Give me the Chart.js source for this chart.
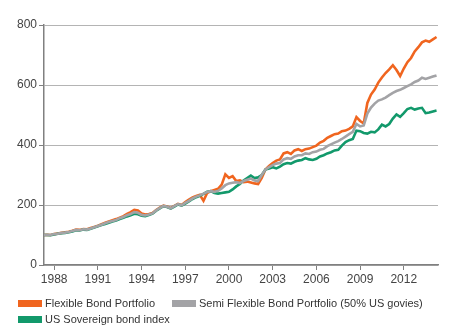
<!DOCTYPE html>
<html>
<head>
<meta charset="utf-8">
<script src="https://cdn.jsdelivr.net/npm/chart.js@4"></script>
<style>
  body { margin: 0; background: #fff; }
  #wrap { position: relative; width: 450px; height: 334px; }
  #legend { position: absolute; left: 0; top: 0; width: 450px; height: 334px; pointer-events: none;
            font-family: "Liberation Sans", Arial, sans-serif; font-size: 11px; color: #333; }
  .item { position: absolute; display: flex; align-items: center; white-space: nowrap; }
  .box { width: 24px; height: 7px; margin-right: 3px; }
</style>
</head>
<body>
<div id="wrap">
  <canvas id="chart" width="450" height="334"></canvas>
  <div id="legend"></div>
</div>
<script>
// quarterly points, 1987.25 .. 2014.25
const startYear = 1987.25;
const yearTicks = [1988, 1991, 1994, 1997, 2000, 2003, 2006, 2009, 2012];
const yTicks = [0, 200, 400, 600, 800];

const flexible = [
  100, 101, 100,
  103, 105, 107, 109,
  111, 114, 118, 117,
  120, 119, 123, 127,
  131, 136, 141, 145,
  149, 153, 158, 163,
  170, 176, 184, 182,
  172, 168, 170, 173,
  183, 191, 198, 195,
  190, 197, 204, 200,
  210, 218, 225, 230,
  234, 214, 240, 246,
  250, 254, 268, 302,
  290, 296, 280, 282,
  276, 278, 275, 272,
  270, 290, 318, 330,
  340, 348, 352, 372,
  376, 370, 382, 386,
  380, 386, 388, 393,
  398, 408, 414, 424,
  430, 436, 438, 446,
  448, 454, 462, 493,
  480, 472, 540, 568,
  585, 608, 625, 640,
  652, 666, 650, 630,
  655, 676, 690, 712,
  726, 742, 748, 744,
  752, 760
];

const semiFlexible = [
  100, 101, 100,
  103, 104, 107, 108,
  110, 113, 117, 116,
  119, 118, 122, 126,
  130, 134, 139, 143,
  147, 150, 156, 160,
  166, 170, 176, 174,
  167, 165, 168, 172,
  182, 190, 197, 194,
  189, 196, 203, 199,
  207, 214, 222, 228,
  232, 238, 243, 246,
  244, 247, 255, 266,
  272, 274, 276, 273,
  280, 284, 288, 282,
  280, 300, 318, 326,
  333, 338, 340, 352,
  356, 354, 362, 366,
  366, 372, 370, 376,
  378, 384, 387, 396,
  402, 408, 413, 420,
  428, 436, 444, 470,
  462, 465, 505, 525,
  538, 548, 552, 558,
  566, 574, 580, 584,
  590, 596, 602, 610,
  615, 624, 620, 624,
  628, 632
];

const sovereign = [
  100, 100, 99,
  102, 104, 106, 107,
  109, 112, 116, 115,
  118, 117, 121, 125,
  129, 133, 137, 141,
  145, 148, 153, 157,
  162, 166, 171, 169,
  164, 163, 167, 171,
  181, 189, 196, 193,
  188, 195, 202, 198,
  205, 212, 220, 226,
  231, 237, 244, 246,
  240, 238, 240, 242,
  244, 252, 262, 270,
  282, 290, 298, 290,
  292, 300, 318, 322,
  326, 322, 328, 336,
  340, 338, 344, 348,
  350, 356, 352, 350,
  354, 362, 366, 372,
  376, 382, 384, 398,
  410, 416, 420, 448,
  446, 440, 438, 444,
  442, 452, 468, 462,
  470, 488, 502, 494,
  506, 520, 524, 518,
  522, 524, 506, 508,
  512, 515
];

const seriesNames = ["Flexible Bond Portfolio", "Semi Flexible Bond Portfolio (50% US govies)", "US Sovereign bond index"];
const colors = ["#f0651f", "#a3a3a6", "#12996b"];

function toPoints(values) {
  return values.map((v, i) => ({ x: startYear + i * 0.25, y: v }));
}

const font = { family: "'Liberation Sans', Arial, sans-serif", size: 12 };

new Chart(document.getElementById("chart"), {
  type: "line",
  data: {
    datasets: [
      { label: seriesNames[0], data: toPoints(flexible), borderColor: colors[0], order: 3 },
      { label: seriesNames[2], data: toPoints(sovereign), borderColor: colors[2], order: 2 },
      { label: seriesNames[1], data: toPoints(semiFlexible), borderColor: colors[1], order: 1 }
    ]
  },
  options: {
    responsive: false,
    animation: false,
    elements: {
      line: { borderWidth: 2.6, tension: 0 },
      point: { radius: 0 }
    },
    layout: { padding: { top: 25, right: 12, bottom: 44, left: 0 } },
    plugins: { legend: { display: false }, tooltip: { enabled: false } },
    scales: {
      x: {
        type: "linear",
        min: 1987.3,
        max: 2014.35,
        afterBuildTicks: axis => { axis.ticks = yearTicks.map(v => ({ value: v })); },
        afterFit: axis => { axis.height = 25; },
        ticks: { color: "#444", font: font, padding: 2, maxRotation: 0, callback: v => String(v) },
        grid: { drawOnChartArea: false, drawTicks: true, tickLength: 5, color: "#808080" },
        border: { color: "#808080", width: 1.5 }
      },
      y: {
        min: 0,
        max: 800,
        afterBuildTicks: axis => { axis.ticks = yTicks.map(v => ({ value: v })); },
        afterFit: axis => { axis.width = 44; },
        ticks: { color: "#444", font: font, padding: 2 },
        grid: { color: "#b4b4b4", lineWidth: 1, tickLength: 5, tickColor: "#808080" },
        border: { color: "#808080", width: 1.5 }
      }
    }
  }
});

// legend below the plot
const legend = document.getElementById("legend");
const legendPos = [[18, 297], [172, 297], [18, 313]];
[0, 1, 2].forEach(i => {
  const item = document.createElement("div");
  item.className = "item";
  item.style.left = legendPos[i][0] + "px";
  item.style.top = legendPos[i][1] + "px";
  item.innerHTML = `<span class="box" style="background:${colors[i]}"></span><span>${seriesNames[i]}</span>`;
  legend.appendChild(item);
});
</script>
</body>
</html>
